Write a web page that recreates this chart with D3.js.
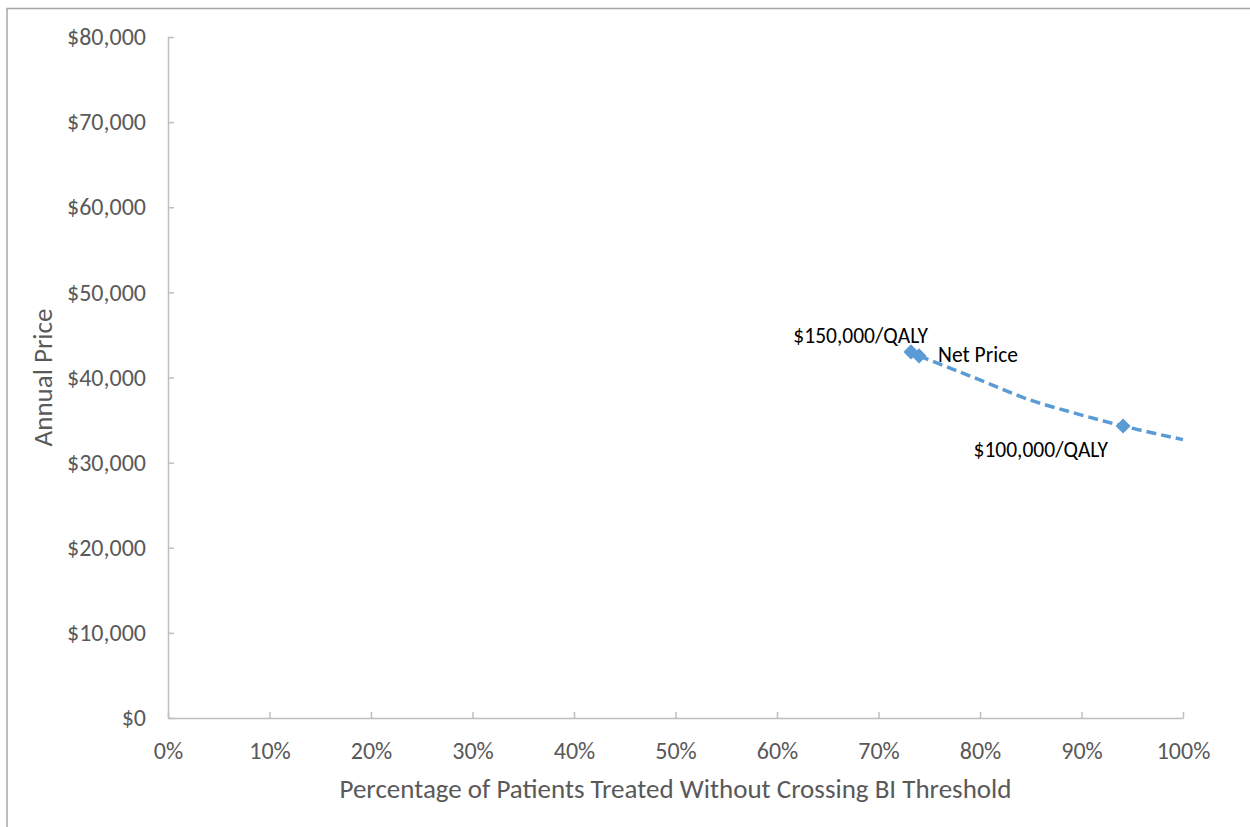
<!DOCTYPE html>
<html>
<head>
<meta charset="utf-8">
<script src="https://cdn.jsdelivr.net/npm/d3@7"></script>
<style>
  html, body { margin: 0; padding: 0; background: #fff; }
  svg text { font-family: Carlito, Calibri, Lato, "Open Sans", sans-serif; }
</style>
</head>
<body>
<svg id="chart" width="1250" height="827"></svg>
<script>
// Net price curve: share of patients treated (percent) vs. annual price (USD)
const curvePct   = [74.0, 80.7, 84.9, 88.9, 94.1, 100];
const curvePrice = [42540, 39370, 37370, 35960, 34300, 32700];

// Threshold price points shown with diamond markers
const markerPct   = [73.2, 74.0, 94.1];
const markerPrice = [43010, 42540, 34300];

// Point labels
const labelText  = ["$150,000/QALY", "Net Price", "$100,000/QALY"];
const labelPct   = [73.2, 74.0, 94.1];
const labelPrice = [43010, 42540, 34300];

// Axis ticks
const xTicks = [0, 10, 20, 30, 40, 50, 60, 70, 80, 90, 100];
const yTicks = [0, 10000, 20000, 30000, 40000, 50000, 60000, 70000, 80000];

const svg = d3.select("#chart");
const W = 1250, H = 827;
const margin = { left: 168, right: 67, top: 37, bottom: 109 };

// Outer chart frame (right and bottom edges fall outside the view)
svg.append("rect")
  .attr("x", 7).attr("y", 8.5)
  .attr("width", W + 20).attr("height", H + 20)
  .attr("fill", "none").attr("stroke", "#a6a6a6").attr("stroke-width", 1.5);

const x = d3.scaleLinear().domain([0, 100]).range([margin.left, W - margin.right]);
const y = d3.scaleLinear().domain([0, 80000]).range([H - margin.bottom, margin.top]);

const axisColor = "#bfbfbf";
const textColor = "#595959";

// X axis with inward ticks
const xAxis = svg.append("g")
  .attr("transform", `translate(0,${y(0)})`)
  .call(d3.axisBottom(x).tickValues(xTicks).tickSizeInner(-6).tickSizeOuter(0)
        .tickFormat(d => d + "%"));
xAxis.select(".domain").attr("stroke", axisColor).attr("stroke-width", 1.5);
xAxis.selectAll(".tick line").attr("stroke", axisColor).attr("stroke-width", 1.5);
xAxis.selectAll(".tick text")
  .attr("y", 33).attr("dy", "0.35em").attr("fill", textColor).attr("font-size", 24);

// Y axis with inward ticks
const yAxis = svg.append("g")
  .attr("transform", `translate(${x(0)},0)`)
  .call(d3.axisLeft(y).tickValues(yTicks).tickSizeInner(-6).tickSizeOuter(0)
        .tickFormat(d => "$" + d3.format(",")(d)));
yAxis.select(".domain").attr("stroke", axisColor).attr("stroke-width", 1.5);
yAxis.selectAll(".tick line").attr("stroke", axisColor).attr("stroke-width", 1.5);
yAxis.selectAll(".tick text")
  .attr("x", -22).attr("fill", textColor).attr("font-size", 24);

// Axis titles
svg.append("text")
  .attr("x", (x(0) + x(100)) / 2).attr("y", 798)
  .attr("text-anchor", "middle").attr("fill", textColor).attr("font-size", 27)
  .text("Percentage of Patients Treated Without Crossing BI Threshold");

svg.append("text")
  .attr("transform", `translate(52,${(y(0) + y(80000)) / 2}) rotate(-90)`)
  .attr("text-anchor", "middle").attr("fill", textColor).attr("font-size", 27)
  .text("Annual Price");

// Dashed net price curve
const seriesColor = "#5b9bd5";
const line = d3.line()
  .x((d, i) => x(curvePct[i]))
  .y((d, i) => y(curvePrice[i]))
  .curve(d3.curveMonotoneX);

svg.append("path")
  .datum(curvePct)
  .attr("d", line)
  .attr("fill", "none")
  .attr("stroke", seriesColor)
  .attr("stroke-width", 3.5)
  .attr("stroke-dasharray", "10,5");

// Diamond markers
const diamond = d3.symbol().type(d3.symbolDiamond2).size(145);
svg.selectAll(".marker")
  .data(markerPct)
  .enter().append("path")
  .attr("class", "marker")
  .attr("d", diamond)
  .attr("transform", (d, i) => `translate(${x(d)},${y(markerPrice[i])})`)
  .attr("fill", seriesColor);

// Point labels
const labelOffsets = [[17, -9, "end"], [19, 6, "start"], [-15, 31, "end"]];
svg.selectAll(".pt-label")
  .data(labelText)
  .enter().append("text")
  .attr("class", "pt-label")
  .attr("x", (d, i) => x(labelPct[i]) + labelOffsets[i][0])
  .attr("y", (d, i) => y(labelPrice[i]) + labelOffsets[i][1])
  .attr("text-anchor", (d, i) => labelOffsets[i][2])
  .attr("fill", "#000")
  .attr("font-size", 21.5)
  .text(d => d);
</script>
</body>
</html>
